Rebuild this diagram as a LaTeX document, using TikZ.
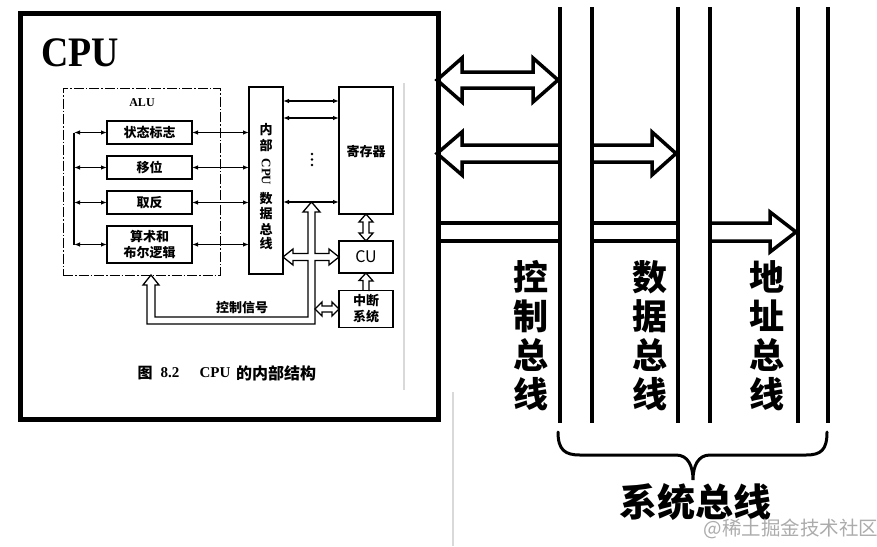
\documentclass[tikz,border=0pt]{standalone}
\usepackage{fontspec}
\setmainfont{Liberation Serif}
\newfontfamily\cjk{Noto Sans CJK SC}
\usetikzlibrary{arrows.meta}
\begin{document}
\begin{tikzpicture}[x=1pt,y=-1pt,
  every node/.style={inner sep=0pt, outer sep=0pt},
  blk/.style={draw, line width=1.3pt},
  lbl/.style={font=\cjk\bfseries\fontsize{13}{16}\selectfont, align=center},
  biglbl/.style={font=\cjk\bfseries\fontsize{35}{39}\selectfont, align=center},
  busline/.style={line width=4pt},
  bigarrow/.style={line width=3.5pt, line join=miter},
  smallhollow/.style={line width=1.3pt, line join=miter},
  dblarr/.style={line width=1.1pt, {Latex[length=6pt,width=4.5pt]}-{Latex[length=6pt,width=4.5pt]}},
  scanline/.style={gray!30, line width=1.5pt}
]
\useasboundingbox (0,0) rectangle (877,546);
\fill[white] (0,0) rectangle (877,546);

% faint scan edges
\draw[scanline] (404,83) -- (404,390);
\draw[scanline] (453,392) -- (453,546);

% CPU box and title
\node[draw, line width=5pt, minimum width=418pt, minimum height=406pt, anchor=north west] (cpu) at (20,13) {};
\node[font=\bfseries\fontsize{42}{42}\selectfont, xscale=0.9, anchor=west] (cput) at (41,53) {CPU};

% system bus lines
\foreach \bx/\nm in {560/a,592/b,678/c,710/d,798/e,828/f}{
  \coordinate (\nm t) at (\bx,7);
  \coordinate (\nm b) at (\bx,423);
  \draw[busline] (\nm t) -- (\nm b);
}

% big hollow arrows
\draw[bigarrow] (437,80) -- (462,58) -- (462,72) -- (533,72) -- (533,58) -- (558,80)
  -- (533,102) -- (533,88) -- (462,88) -- (462,102) -- cycle;
\draw[bigarrow] (558,145) -- (462,145) -- (462,132) -- (437,153.5) -- (462,175) -- (462,162) -- (558,162);
\draw[bigarrow] (594,145) -- (652,145) -- (652,132) -- (676,153.5) -- (652,175) -- (652,162) -- (594,162);
\draw[bigarrow] (437,223) -- (558,223);
\draw[bigarrow] (437,241) -- (558,241);
\draw[bigarrow] (594,223) -- (676,223);
\draw[bigarrow] (594,241) -- (676,241);
\draw[bigarrow] (712,223) -- (770,223) -- (770,212) -- (796,232) -- (770,252) -- (770,241) -- (712,241);

% bus labels
\node[biglbl] (ctl) at (531,336) {控\\制\\总\\线};
\node[biglbl] (dat) at (650,336) {数\\据\\总\\线};
\node[biglbl] (adr) at (767,336) {地\\址\\总\\线};

% brace
\draw[line width=3pt, line cap=round] (558,432) .. controls (558,450) and (565,455) .. (580,455)
  -- (676,455) .. controls (688,455) and (693,466) .. (693,480)
  .. controls (693,466) and (698,455) .. (710,455) -- (806,455)
  .. controls (821,455) and (827,450) .. (827,432);
\node[font=\cjk\bfseries\fontsize{38}{38}\selectfont] (sys) at (695,502) {系统总线};
\node[font=\cjk\fontsize{19.5}{20}\selectfont, text=gray!65] (wm) at (791,529) {@稀土掘金技术社区};

% ===== inner figure =====
\node[draw, line width=1pt, dash pattern=on 10pt off 2pt on 1.5pt off 2pt, minimum width=157pt, minimum height=187pt, anchor=north west] (alu) at (63,88) {};
\node[font=\bfseries\fontsize{12}{12}\selectfont] (alut) at (142,103) {ALU};

\node[blk, lbl, minimum width=85pt, minimum height=23pt] (zt) at (149.5,132.5) {状态标志};
\node[blk, lbl, minimum width=85pt, minimum height=23pt] (yw) at (149.5,167.5) {移位};
\node[blk, lbl, minimum width=85pt, minimum height=23pt] (qf) at (149.5,202.5) {取反};
\node[blk, lbl, minimum width=85pt, minimum height=37pt] (sl) at (149.5,244.5) {算术和\\布尔逻辑};

\coordinate (lt) at (74,132.5);
\coordinate (lb) at (74,244.5);
\draw[line width=1.1pt] (lt) -- (lb);

\node[blk, minimum width=34pt, minimum height=187pt, anchor=north west] (ib) at (249,87) {};
\node[lbl] (t1) at (266,130) {内};
\node[lbl] (t2) at (266,145) {部};
\node[font=\bfseries\fontsize{13}{13}\selectfont, rotate=-90] (t3) at (266,172) {CPU};
\node[lbl] (t4) at (266,199) {数};
\node[lbl] (t5) at (266,214) {据};
\node[lbl] (t6) at (266,229) {总};
\node[lbl] (t7) at (266,244) {线};

\foreach \b in {zt,yw,qf,sl}{
  \draw[dblarr] (\b.west -| lt) -- (\b.west);
  \draw[dblarr] (\b.east) -- (\b.east -| ib.west);
}

\node[blk, minimum width=54pt, minimum height=127pt, anchor=north west] (reg) at (339,87) {};
\node[lbl] (regt) at (366,152) {寄存器};
\coordinate (y1) at (0,101);
\coordinate (y2) at (0,118);
\coordinate (y3) at (0,202);
\foreach \yy in {y1,y2,y3}{
  \draw[dblarr] (ib.east |- \yy) -- (reg.west |- \yy);
}
% vertical ellipsis dots
\foreach \dy in {154,159.5,165}{
  \fill (312,\dy) circle (1.4pt);
}

\node[blk, minimum width=54pt, minimum height=32pt, font=\cjk\fontsize{16}{16}\selectfont] (cu) at (366,257) {CU};
\node[blk, lbl, minimum width=54pt, minimum height=37pt] (zd) at (366,309) {中断\\系统};

% register <-> CU
\draw[smallhollow] (reg.south) -- ++(7,8) -- ++(-4,0) -- ++(0,11) -- ++(4,0) -- (cu.north)
  -- ++(-7,-8) -- ++(4,0) -- ++(0,-11) -- ++(-4,0) -- cycle;
% interrupt -> CU
\draw[smallhollow] ([xshift=-3pt]zd.north) -- ++(0,-10) -- ++(-4,0) -- (cu.south) -- ++(7,8) -- ++(-4,0) -- ++(0,10);
% interrupt <-> control line
\draw[smallhollow] (zd.west) -- ++(-7,-7) -- ++(0,4) -- ++(-10,0) -- ++(0,-4) -- ++(-7,7)
  -- ++(7,7) -- ++(0,-4) -- ++(10,0) -- ++(0,4) -- cycle;

% control signal network (hollow)
\coordinate (ctop) at (311.5,202);
\coordinate (calu) at (151,275);
\draw[smallhollow] (ctop) -- (320,212) -- (315,212) -- (315,253.5) -- (329,253.5) -- (329,249)
  -- (cu.west) -- (329,265) -- (329,260.5) -- (315,260.5) -- (315,324) -- (147,324)
  -- (147,285) -- (143,285) -- (calu) -- (159,285) -- (155,285) -- (155,317) -- (308,317)
  -- (308,260.5) -- (293,260.5) -- (293,265) -- (ib.east |- cu.west) -- (293,249) -- (293,253.5)
  -- (308,253.5) -- (308,212) -- (303,212) -- cycle;
\node[lbl] (ks) at (242,308) {控制信号};

% caption
\node[font=\cjk\bfseries\fontsize{15}{15}\selectfont] (c1) at (145,373) {图};
\node[font=\bfseries\fontsize{15}{15}\selectfont] (c2) at (170,373) {8.2};
\node[font=\bfseries\fontsize{15}{15}\selectfont] (c3) at (215,373) {CPU};
\node[font=\cjk\bfseries\fontsize{16}{16}\selectfont] (c4) at (276,373) {的内部结构};
\end{tikzpicture}
\end{document}
